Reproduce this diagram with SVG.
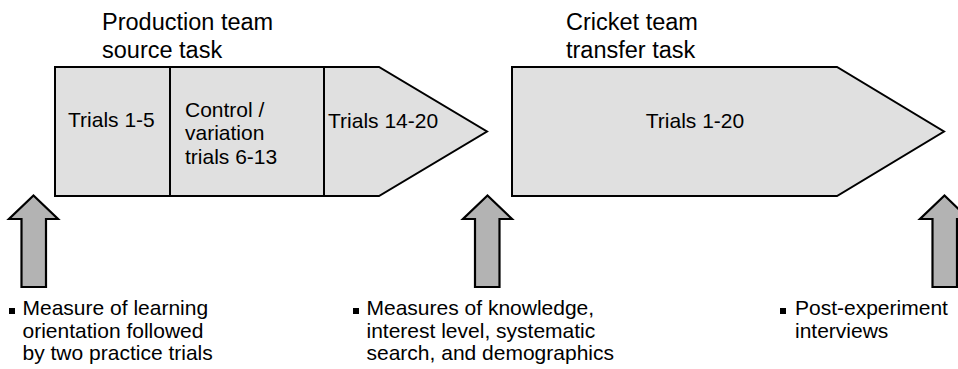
<svg xmlns="http://www.w3.org/2000/svg" width="958" height="369" viewBox="0 0 958 369">
<style>
text{font-family:"Liberation Sans",Arial,sans-serif;fill:#000}
.t{font-size:23.5px}
.b{font-size:21px}
.shape{fill:#e0e0e0;stroke:#000;stroke-width:2}
.arr{fill:#b3b3b3;stroke:#000;stroke-width:2.2}
.div{stroke:#000;stroke-width:2}
</style>
<rect width="958" height="369" fill="#fff"/>
<g id="source-task">
<text class="t" x="102" y="30">Production team</text>
<text class="t" x="102" y="58">source task</text>
<polygon class="shape" points="55,67 379,67 487,131.5 379,196 55,196"/>
<line class="div" x1="170" y1="67" x2="170" y2="196"/>
<line class="div" x1="324" y1="67" x2="324" y2="196"/>
<text class="b" x="68" y="127">Trials 1-5</text>
<text class="b" x="185" y="116.5">Control /</text>
<text class="b" x="185" y="140">variation</text>
<text class="b" x="185" y="164">trials 6-13</text>
<text class="b" x="328" y="128">Trials 14-20</text>
</g>
<g id="transfer-task">
<text class="t" x="566" y="30">Cricket team</text>
<text class="t" x="566" y="58">transfer task</text>
<polygon class="shape" points="512,67 837,67 944,131.5 837,196 512,196"/>
<text class="b" x="695" y="128" text-anchor="middle">Trials 1-20</text>
</g>
<g id="connectors">
<polygon class="arr" points="33.5,195.5 58,219 46,219 46,287 21.5,287 21.5,219 9,219"/>
<polygon class="arr" points="487.5,195.5 512,219 499.5,219 499.5,287 475,287 475,219 463,219"/>
<polygon class="arr" points="944.5,195.5 969,219 957,219 957,287 932.5,287 932.5,219 920,219"/>
</g>
<g id="note-1">
<rect x="9" y="308" width="6" height="6" fill="#000"/>
<text class="b" x="22.5" y="315">Measure of learning</text>
<text class="b" x="22.5" y="337.5">orientation followed</text>
<text class="b" x="22.5" y="360">by two practice trials</text>
</g>
<g id="note-2">
<rect x="353" y="308" width="6" height="6" fill="#000"/>
<text class="b" x="366.5" y="315">Measures of knowledge,</text>
<text class="b" x="366.5" y="337.5">interest level, systematic</text>
<text class="b" x="366.5" y="360">search, and demographics</text>
</g>
<g id="note-3">
<rect x="780" y="308" width="6" height="6" fill="#000"/>
<text class="b" x="795" y="315">Post-experiment</text>
<text class="b" x="795" y="337.5">interviews</text>
</g>
</svg>
